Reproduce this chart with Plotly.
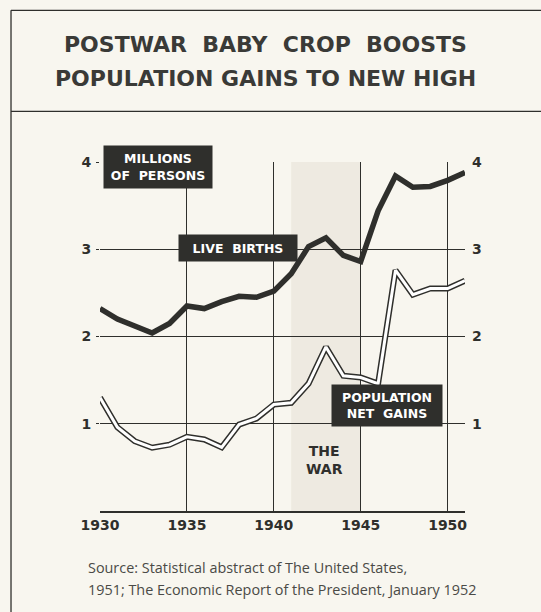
import plotly.graph_objects as go

# Annual figures, millions of persons
years = list(range(1930, 1952))
live_births = [2.32, 2.20, 2.12, 2.04, 2.15, 2.35, 2.32, 2.40, 2.46, 2.45,
               2.52, 2.72, 3.03, 3.13, 2.93, 2.86, 3.44, 3.84, 3.71, 3.72,
               3.79, 3.88]
net_gains = [1.30, 0.96, 0.80, 0.725, 0.76, 0.85, 0.82, 0.73, 0.99, 1.06,
             1.22, 1.24, 1.46, 1.88, 1.55, 1.53, 1.46, 2.76, 2.48, 2.55,
             2.55, 2.64]

x_ticks = [1930, 1935, 1940, 1945, 1950]
y_ticks = [1, 2, 3, 4]
war_years = [1941, 1945]

title_lines = ["POSTWAR  BABY  CROP  BOOSTS", "POPULATION GAINS TO NEW HIGH"]
source_lines = ["Source: Statistical abstract of The United States,",
                "1951; The Economic Report of the President, January 1952"]

INK = "#2f2f2c"
PAPER = "#f8f6ef"
BOLD = "DejaVu Sans"

fig = go.Figure()

# Live births: heavy dark line
fig.add_trace(go.Scatter(x=years, y=live_births, mode="lines",
                         line=dict(color=INK, width=5.5), hoverinfo="skip"))
# Net gains: hollow (outlined) line
fig.add_trace(go.Scatter(x=years, y=net_gains, mode="lines",
                         line=dict(color=INK, width=6), hoverinfo="skip"))
fig.add_trace(go.Scatter(x=years, y=net_gains, mode="lines",
                         line=dict(color="#ffffff", width=3), hoverinfo="skip"))
# carrier for the right-hand value axis
fig.add_trace(go.Scatter(x=[None], y=[None], yaxis="y2", showlegend=False))

# War period shading
fig.add_shape(type="rect", xref="x", yref="y", x0=war_years[0], x1=war_years[1],
              y0=0, y1=4, fillcolor="#eeeae1", line_width=0, layer="below")

# Frame rules around the title
fig.add_shape(type="line", xref="paper", yref="paper", x0=-0.2438, x1=1.3, y0=1.4347, y1=1.4347,
              line=dict(color=INK, width=1.3))
fig.add_shape(type="line", xref="paper", yref="paper", x0=-0.2438, x1=1.3, y0=1.1450, y1=1.1450,
              line=dict(color=INK, width=1.3))
fig.add_shape(type="line", xref="paper", yref="paper", x0=-0.2438, x1=-0.2438, y0=-0.3, y1=1.4347,
              line=dict(color=INK, width=1.3))

ann = []
for i, t in enumerate(title_lines):
    ann.append(dict(text=t, xref="paper", yref="paper", x=0.453, y=1.338 - i * 0.0985,
                    showarrow=False, xanchor="center", yanchor="middle",
                    font=dict(family=BOLD, size=22, color="#3a3a37", weight="bold")))

box_font = dict(family=BOLD, size=12.5, color="#ffffff", weight="bold")
ann.append(dict(text="MILLIONS<br>OF  PERSONS", x=1933.34, y=3.94, xref="x", yref="y",
                showarrow=False, bgcolor=INK, width=104, height=38, borderpad=2,
                font=box_font, align="center"))
ann.append(dict(text="LIVE  BIRTHS", x=1937.96, y=3.01, xref="x", yref="y",
                showarrow=False, bgcolor=INK, width=114, height=22, borderpad=2,
                font=box_font, align="center"))
ann.append(dict(text="POPULATION<br>NET  GAINS", x=1946.54, y=1.21, xref="x", yref="y",
                showarrow=False, bgcolor=INK, width=106, height=37, borderpad=2,
                font=box_font, align="center"))
ann.append(dict(text="THE<br>WAR", x=1942.94, y=0.59, xref="x", yref="y",
                showarrow=False, font=dict(family=BOLD, size=14, color=INK, weight="bold"),
                align="center"))

for i, t in enumerate(source_lines):
    ann.append(dict(text=t, xref="paper", yref="paper", x=-0.0384, y=-0.1605 - i * 0.0632,
                    showarrow=False, xanchor="left", yanchor="middle",
                    font=dict(family="Open Sans", size=14.4, color="#4a4a46")))

fig.update_layout(
    width=541, height=612,
    margin=dict(l=100, r=76, t=162, b=101),
    paper_bgcolor=PAPER, plot_bgcolor=PAPER,
    showlegend=False,
    annotations=ann,
    xaxis=dict(range=[1930, 1951], tickvals=x_ticks, showgrid=True, gridcolor=INK, gridwidth=1.3,
               zeroline=False, showline=True, linecolor=INK, linewidth=1.5,
               ticks="", tickfont=dict(family=BOLD, size=14, color=INK, weight="bold"),
               fixedrange=True),
    yaxis=dict(range=[0, 4], tickvals=y_ticks, showgrid=True, gridcolor=INK, gridwidth=1.3,
               zeroline=False, ticks="outside", ticklen=3, tickcolor=INK, ticklabelstandoff=2,
               tickfont=dict(family=BOLD, size=14, color=INK, weight="bold"),
               fixedrange=True),
    yaxis2=dict(range=[0, 4], tickvals=y_ticks, overlaying="y", side="right", showgrid=False,
                zeroline=False, ticks="", ticklabelstandoff=6,
                tickfont=dict(family=BOLD, size=14, color=INK, weight="bold"),
                fixedrange=True),
)

fig.write_html("out.html")
